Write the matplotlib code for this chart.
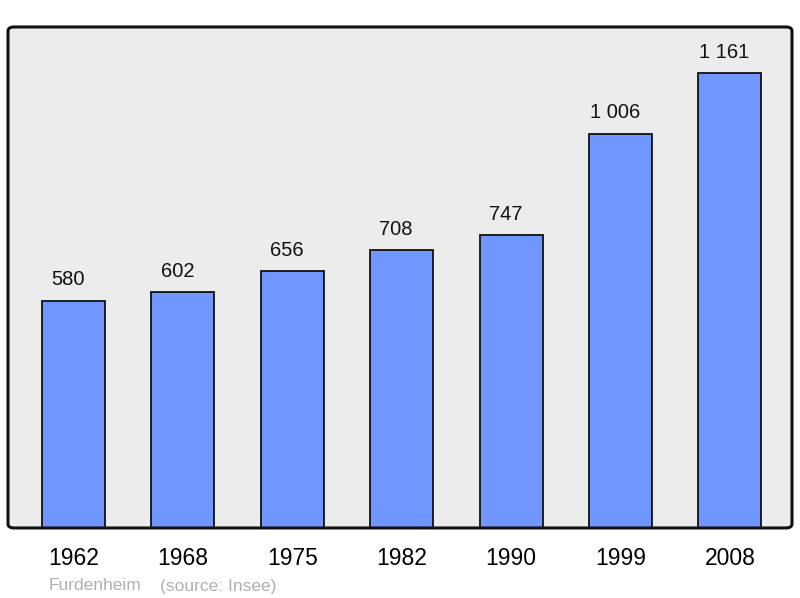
import matplotlib.pyplot as plt
from matplotlib.patches import FancyBboxPatch

plt.rcParams['font.family'] = ['Liberation Sans', 'DejaVu Sans']

years = ["1962", "1968", "1975", "1982", "1990", "1999", "2008"]
population = [580, 602, 656, 708, 747, 1006, 1161]
value_labels = ["580", "602", "656", "708", "747", "1 006", "1 161"]

fig = plt.figure(figsize=(8, 5.98), dpi=100)
ax = fig.add_axes([0.01, 0.1171, 0.98, 0.8378])
ax.set_facecolor('#ececec')

x = range(len(years))
ax.bar(x, population, width=0.576, color='#7096ff', edgecolor='#111111',
       linewidth=1.3, zorder=2)

for i, (v, lab) in enumerate(zip(population, value_labels)):
    ax.annotate(lab, (i, v), xytext=(-4, 8), textcoords='offset points',
                ha='center', va='bottom', fontsize=14.5, color='#111111')

ax.set_xlim(-0.599, 6.568)
ax.set_ylim(0, 1278)
ax.set_xticks(list(x))
ax.set_xticklabels(years, fontsize=16.5)
ax.tick_params(axis='x', length=0, pad=14)
ax.set_yticks([])
for s in ax.spines.values():
    s.set_visible(False)

frame = FancyBboxPatch((0, 0), 1, 1, boxstyle="round,pad=0,rounding_size=0.008",
                       transform=ax.transAxes, fill=False, edgecolor='#111111',
                       linewidth=2.2, clip_on=False, zorder=5)
ax.add_patch(frame)

fig.text(49 / 800, 1 - 586 / 598, "Furdenheim", fontsize=12.5, color='#b0b0b0',
         ha='left', va='center')
fig.text(160 / 800, 1 - 586 / 598, "(source: Insee)", fontsize=12.5, color='#b0b0b0',
         ha='left', va='center')

fig.savefig('out.png', dpi=100, facecolor='white')
